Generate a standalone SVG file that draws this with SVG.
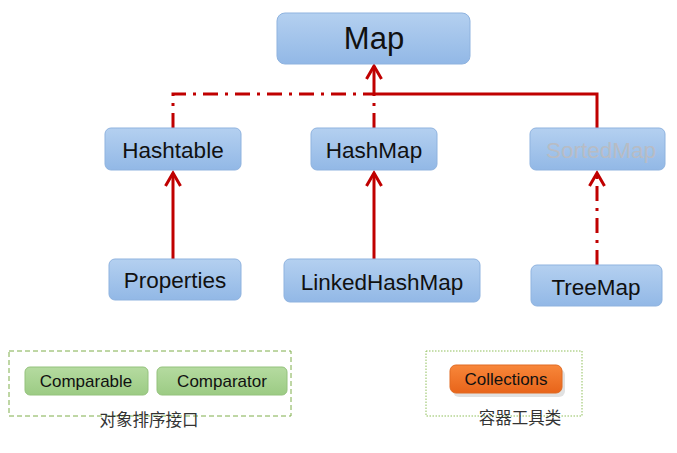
<svg xmlns="http://www.w3.org/2000/svg" width="677" height="453" viewBox="0 0 677 453">
<style>
.node rect{fill:url(#blue);stroke:#8fb3df;stroke-width:1}
.node text{font-family:"Liberation Sans",Arial,sans-serif;fill:#111;text-anchor:middle;font-size:22.5px}
.conn{fill:none;stroke:#c00000;stroke-width:3}
.dd{stroke-dasharray:15,7,3,7}
.small{font-family:"Liberation Sans",Arial,sans-serif;font-size:17px;fill:#111;text-anchor:middle}
.lbl{font-family:"Noto Sans CJK SC",sans-serif;font-size:16.5px;fill:#333;text-anchor:middle}
</style>
<defs>
<linearGradient id="blue" x1="0" y1="0" x2="0" y2="1">
<stop offset="0" stop-color="#b4d0f0"/><stop offset="1" stop-color="#92b8e6"/>
</linearGradient>
<linearGradient id="green" x1="0" y1="0" x2="0" y2="1">
<stop offset="0" stop-color="#b5dba0"/><stop offset="1" stop-color="#9ccb84"/>
</linearGradient>
<linearGradient id="orange" x1="0" y1="0" x2="0" y2="1">
<stop offset="0" stop-color="#f8873a"/><stop offset="1" stop-color="#e8641a"/>
</linearGradient>
<marker id="arr" viewBox="-18 -11 22 22" refX="0" refY="0" markerWidth="22" markerHeight="22" markerUnits="userSpaceOnUse" orient="auto">
<path d="M-13,-7.5 L0,0 L-13,7.5" fill="none" stroke="#c00000" stroke-width="3"/>
</marker>
</defs>
<rect width="677" height="453" fill="#fff"/>
<g id="connectors">
<path class="conn" d="M374,94 L374,66" marker-end="url(#arr)"/>
<path class="conn" d="M374,94 L597,94 L597,128"/>
<path class="conn dd" d="M173,128 L173,94 L374,94"/>
<path class="conn dd" d="M374,128 L374,94"/>
<path class="conn" d="M173,259 L173,173" marker-end="url(#arr)"/>
<path class="conn" d="M374,259 L374,173" marker-end="url(#arr)"/>
<path class="conn dd" d="M597,265 L597,173" marker-end="url(#arr)"/>
</g>
<g id="Map" class="node"><rect x="277" y="13" width="193" height="51" rx="8"/><text x="374" y="49" style="font-size:31px">Map</text></g>
<g id="Hashtable" class="node"><rect x="105" y="128" width="136" height="42" rx="6"/><text x="173" y="158">Hashtable</text></g>
<g id="HashMap" class="node"><rect x="311" y="128" width="126" height="42" rx="6"/><text x="374" y="158">HashMap</text></g>
<g id="SortedMap" class="node"><rect x="530" y="128" width="135" height="42" rx="6"/><text x="601" y="158" style="fill:#b8bcc4">SortedMap</text></g>
<g id="Properties" class="node"><rect x="109" y="259" width="132" height="41" rx="6"/><text x="175" y="288">Properties</text></g>
<g id="LinkedHashMap" class="node"><rect x="284" y="259" width="196" height="43" rx="6"/><text x="382" y="290">LinkedHashMap</text></g>
<g id="TreeMap" class="node"><rect x="531" y="265" width="131" height="41" rx="6"/><text x="596" y="295">TreeMap</text></g>
<g id="sort-group">
<rect x="9" y="351" width="282" height="65" fill="none" stroke="#7fae4a" stroke-width="1" stroke-dasharray="5,3"/>
<g id="Comparable"><rect x="25" y="367" width="123" height="28" rx="5" fill="url(#green)" stroke="#94c27c"/><text class="small" x="86" y="387">Comparable</text></g>
<g id="Comparator"><rect x="157" y="367" width="130" height="28" rx="5" fill="url(#green)" stroke="#94c27c"/><text class="small" x="222" y="387">Comparator</text></g>
<text class="lbl" x="149" y="426">对象排序接口</text>
</g>
<g id="tool-group">
<rect x="426" y="351" width="156" height="65" fill="none" stroke="#8fbf5a" stroke-width="1" stroke-dasharray="1.5,1.5"/>
<g id="Collections"><rect x="452" y="367" width="112" height="28" rx="6" fill="#aaa" opacity="0.35" transform="translate(1,2)"/><rect x="450" y="365" width="112" height="28" rx="6" fill="url(#orange)" stroke="#e06a22"/><text class="small" x="506" y="385">Collections</text></g>
<text class="lbl" x="520" y="424">容器工具类</text>
</g>
</svg>
